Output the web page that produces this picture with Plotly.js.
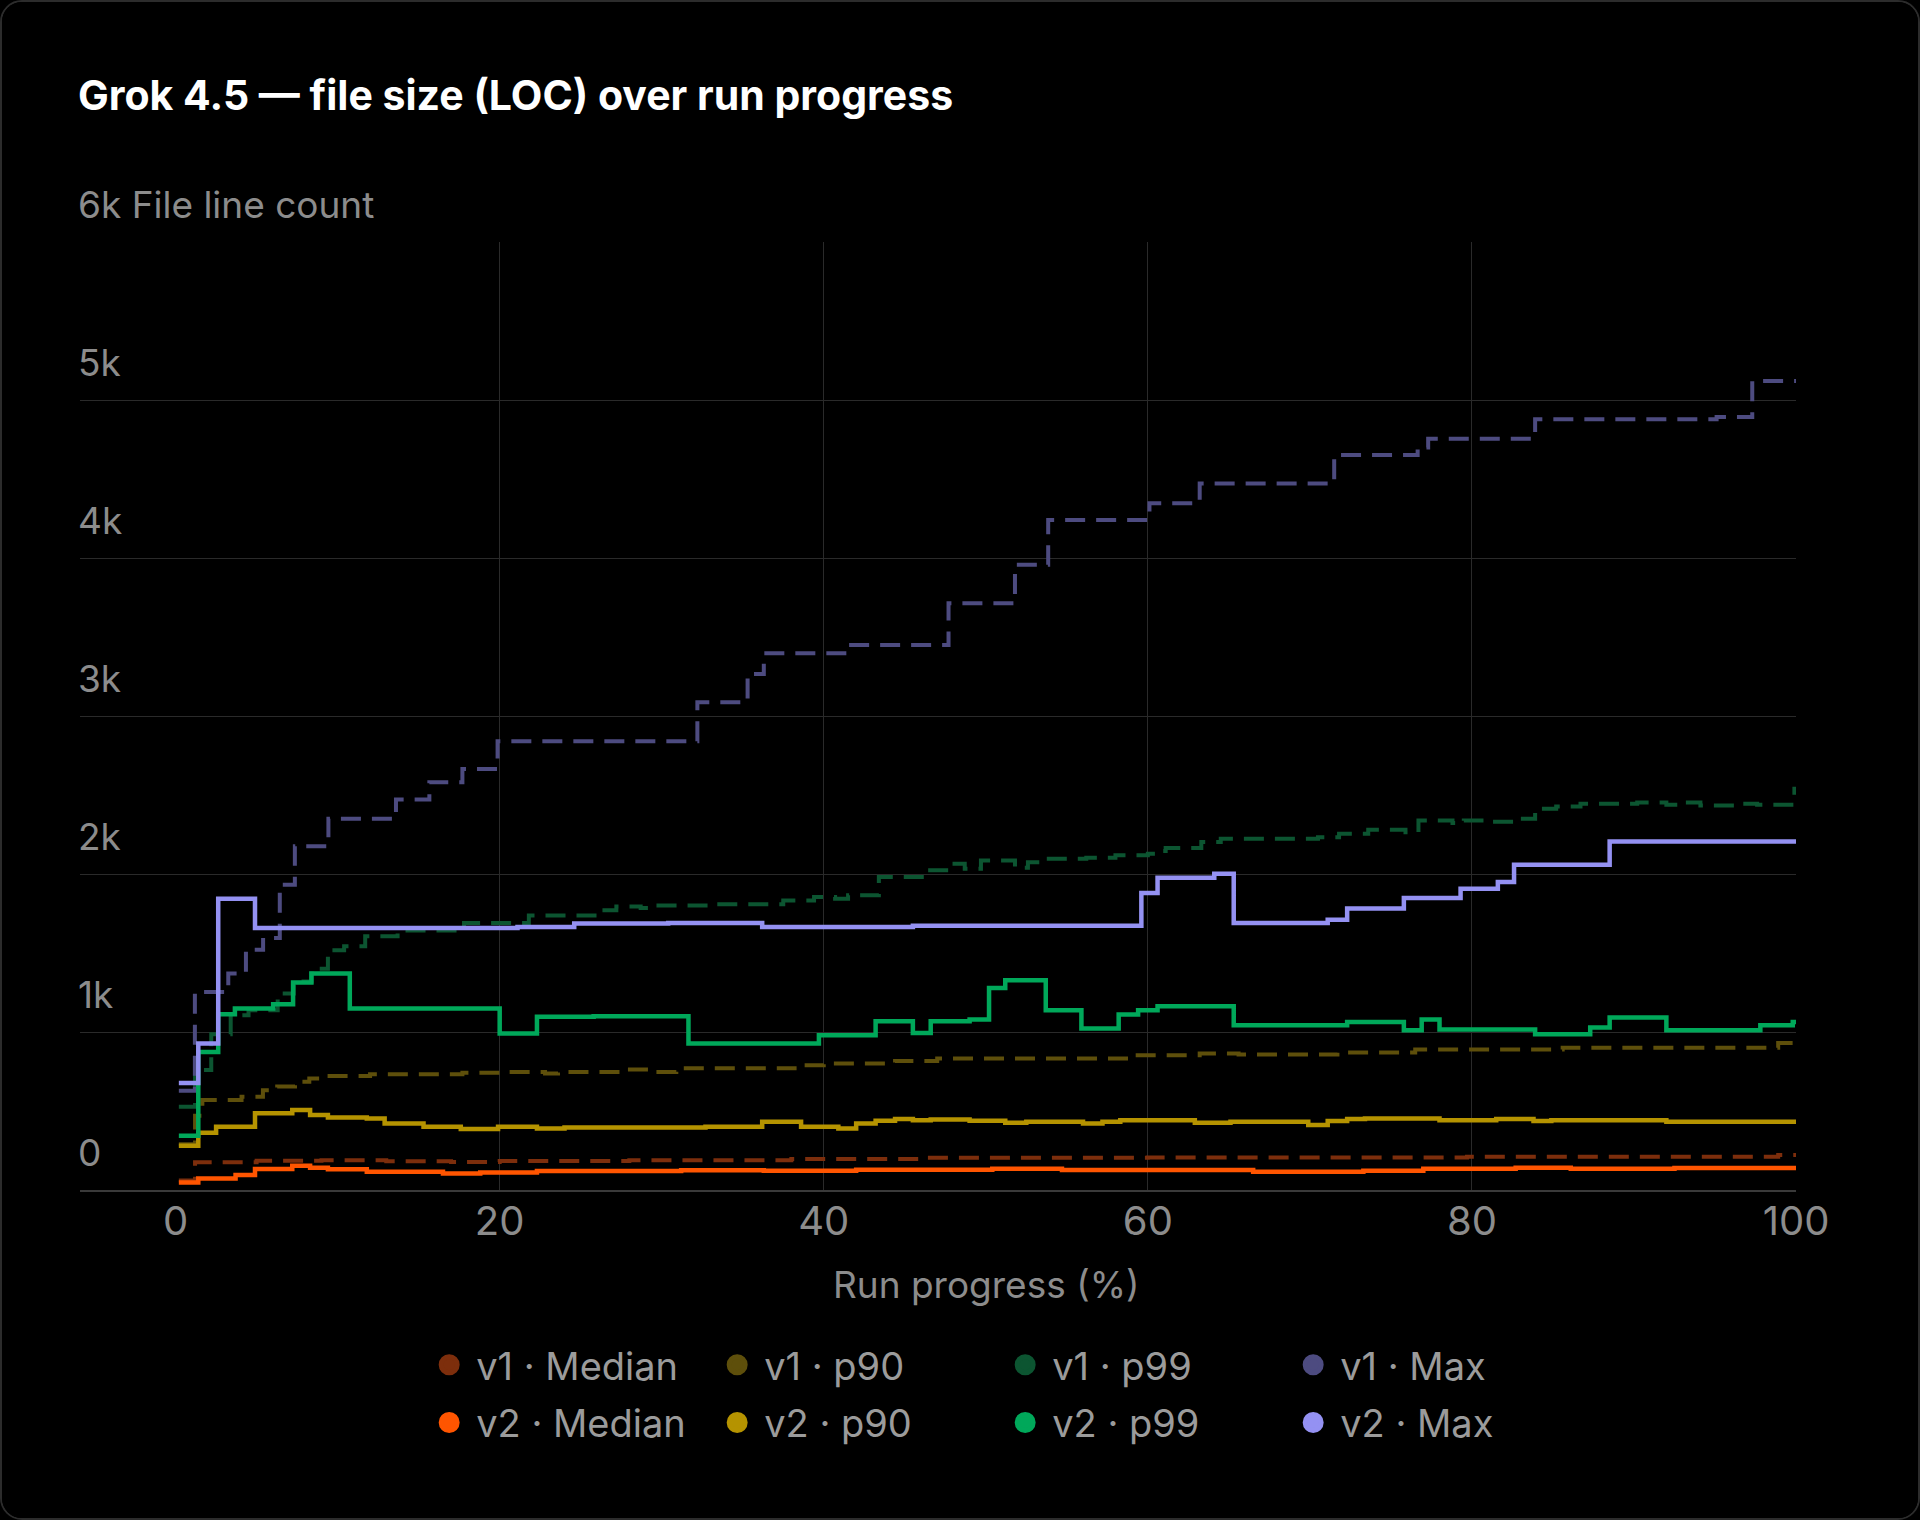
<!DOCTYPE html>
<html>
<head>
<meta charset="utf-8">
<script src="https://cdn.plot.ly/plotly-3.0.1.min.js"></script>
<style>
  html, body { margin: 0; padding: 0; background: #000; }
  #chart {
    width: 1920px; height: 1520px; box-sizing: border-box;
    border: 2px solid #2c2c2c; border-radius: 22px; overflow: hidden;
  }
</style>
</head>
<body>
<div id="chart"></div>
<script>
// Step series: x = run progress (%), y = file line count

const v1MedianX = [0.2, 1.2, 5.0, 9.0, 13, 17, 20, 28, 38, 46, 60, 79.7, 98.9, 100];
const v1MedianY = [60, 175, 185, 188, 182, 178, 183, 188, 196, 204, 206, 211, 221, 221];

const v2MedianX = [0.2, 1.4, 3.7, 4.9, 7.2, 8.3, 9.4, 11.8, 16.5, 18.8, 22.3, 31.2, 36.3, 42.0,
                   50.4, 54.7, 66.5, 73.3, 77.0, 82.7, 86.1, 92.5, 100];
const v2MedianY = [48, 72, 95, 133, 154, 141, 131, 116, 105, 110, 120, 125, 122, 128,
                   135, 126, 116, 122, 135, 141, 135, 139, 139];

const v1P90X = [0.2, 1.2, 1.65, 4.07, 5.39, 6.27, 7.37, 8.25, 8.91, 12.0, 17.7, 20.0, 22.8, 23.6,
                27.4, 29.2, 30.9, 38.2, 40.0, 44.4, 47.0, 58.8, 63.2, 65.6, 71.7, 76.5, 85.6,
                98.9, 100];
const v1P90Y = [290, 470, 569, 590, 632, 655, 685, 706, 722, 733, 742, 747, 737, 747,
                763, 747, 770, 790, 801, 817, 832, 853, 864, 858, 870, 889, 900,
                930, 930];

const v2P90X = [0.2, 1.4, 2.5, 4.9, 7.2, 8.3, 9.4, 11.8, 12.9, 15.3, 17.6, 19.9, 22.3, 24.0,
                32.7, 36.2, 38.6, 40.9, 42.0, 43.2, 44.4, 45.5, 46.6, 49.0, 51.2, 52.5,
                56.0, 57.2, 58.3, 62.9, 65.1, 69.9, 71.1, 72.3, 73.4, 78.0, 81.5, 83.8,
                84.9, 92.0, 100];
const v2P90Y = [280, 362, 400, 485, 506, 474, 459, 452, 421, 400, 386, 400, 390, 395,
                400, 432, 400, 390, 421, 438, 449, 442, 446, 438, 425, 432,
                421, 432, 442, 425, 432, 411, 436, 449, 453, 442, 449, 436,
                442, 432, 432];

const v1P99X = [0.2, 1.2, 2.2, 3.4, 4.5, 6.3, 7.3, 8.4, 9.4, 10.4, 11.7, 13.7, 17.8, 21.8,
                26.1, 27.2, 28.7, 29.8, 33.4, 37.5, 39.4, 40.7, 41.5, 43.4, 46.4, 47.7,
                48.7, 49.7, 51.8, 52.6, 53.5, 56.2, 58.0, 60.0, 60.6, 61.1, 63.3, 64.5,
                70.5, 71.8, 73.6, 75.9, 76.7, 78.8, 79.5, 81.1, 82.6, 83.9, 85.2, 86.7,
                90.2, 92.0, 93.2, 94.1, 96.4, 97.6, 99.9, 100];
const v1P99Y = [527, 760, 986, 1106, 1138, 1243, 1320, 1401, 1517, 1542, 1606, 1643, 1690, 1738,
                1770, 1795, 1785, 1800, 1808, 1833, 1854, 1844, 1865, 1981, 2023, 2065,
                2033, 2086, 2040, 2075, 2097, 2103, 2118, 2128, 2145, 2164, 2202, 2223,
                2233, 2255, 2280, 2265, 2339, 2322, 2339, 2330, 2350, 2413, 2427, 2444,
                2453, 2438, 2453, 2434, 2444, 2438, 2539, 2539];

const v2P99X = [0.2, 1.4, 2.63, 3.66, 6.02, 7.25, 8.38, 10.75, 20.0, 22.3, 25.8, 31.65, 39.7,
                43.2, 45.5, 46.6, 49.0, 50.2, 51.2, 53.7, 55.9, 58.2, 59.4, 60.6, 65.3,
                72.3, 75.8, 76.9, 78.0, 83.9, 87.3, 88.5, 92.0, 97.8, 99.8, 100];
const v2P99Y = [343, 874, 1112, 1148, 1176, 1313, 1370, 1148, 990, 1096, 1100, 927, 980,
                1068, 994, 1068, 1079, 1279, 1327, 1138, 1022, 1110, 1138, 1163, 1043,
                1064, 1011, 1079, 1016, 986, 1028, 1092, 1011, 1043, 1064, 1064];

const v1MaxX = [0.2, 1.19, 3.25, 4.34, 5.4, 6.43, 7.36, 9.43, 13.6, 15.66, 17.7, 19.87, 32.2,
                35.3, 36.3, 41.4, 47.7, 51.8, 53.85, 60.1, 63.2, 71.5, 76.65, 77.3, 83.9,
                95.1, 97.3, 100];
const v1MaxY = [628, 1253, 1370, 1521, 1595, 1932, 2176, 2349, 2471, 2581, 2665, 2840, 3087,
                3266, 3397, 3449, 3713, 3957, 4240, 4347, 4471, 4652, 4700, 4755, 4878,
                4893, 5120, 5120];

const v2MaxX = [0.2, 1.4, 2.63, 4.9, 21.1, 24.6, 30.4, 36.2, 45.5, 59.6, 60.6, 64.1, 65.3,
                71.1, 72.3, 75.8, 79.3, 81.6, 82.6, 88.5, 100];
const v2MaxY = [678, 927, 1844, 1658, 1664, 1686, 1690, 1664, 1673, 1879, 1977, 2002, 1690,
                1711, 1781, 1848, 1907, 1949, 2059, 2206, 2206];

const yTickVals = [0, 1000, 2000, 3000, 4000, 5000, 6000];
const yTickText = ['0', '1k', '2k', '3k', '4k', '5k', '6k File line count'];
const xTickVals = [0, 20, 40, 60, 80, 100];

const FONT = 'Inter, "Noto Sans", sans-serif';

// name, data, colour, dashed (v1), legend row
const series = [
  {name: 'v1 · Median', x: v1MedianX, y: v1MedianY, color: '#7d2e0c', v1: true},
  {name: 'v1 · p90',    x: v1P90X,    y: v1P90Y,    color: '#5e4f0b', v1: true},
  {name: 'v1 · p99',    x: v1P99X,    y: v1P99Y,    color: '#0c5531', v1: true},
  {name: 'v1 · Max',    x: v1MaxX,    y: v1MaxY,    color: '#4d4b80', v1: true},
  {name: 'v2 · Median', x: v2MedianX, y: v2MedianY, color: '#ff5500', v1: false},
  {name: 'v2 · p90',    x: v2P90X,    y: v2P90Y,    color: '#b59300', v1: false},
  {name: 'v2 · p99',    x: v2P99X,    y: v2P99Y,    color: '#00a85a', v1: false},
  {name: 'v2 · Max',    x: v2MaxX,    y: v2MaxY,    color: '#9491f2', v1: false}
];

let traces = [];

series.forEach((s) => {
  traces.push({
    x: s.x,
    y: s.y,
    type: 'scatter',
    mode: 'lines',
    name: s.name,
    line: {shape: 'hv', color: s.color, width: s.v1 ? 4 : 4.5, dash: s.v1 ? '20px,11px' : 'solid'},
    showlegend: false,
    legendgroup: s.name,
    hoverinfo: 'x+y+name'
  });
});

// round legend swatches, one row per version
series.forEach((s) => {
  traces.push({
    x: [null],
    y: [null],
    type: 'scatter',
    mode: 'markers',
    name: s.name,
    marker: {symbol: 'circle', size: 16, color: s.color, line: {color: s.color, width: 5}},
    legend: s.v1 ? 'legend' : 'legend2',
    legendgroup: s.name,
    showlegend: true
  });
});

const legendBase = {
  orientation: 'h',
  xref: 'container',
  yref: 'container',
  x: 0.2193,
  xanchor: 'left',
  yanchor: 'top',
  entrywidth: 229,
  itemwidth: 44,
  bgcolor: 'rgba(0,0,0,0)',
  font: {family: FONT, size: 38, color: '#9b9b9b'}
};

var layout = {
  width: 1916,
  height: 1516,
  paper_bgcolor: '#000',
  plot_bgcolor: '#000',
  margin: {l: 78, r: 122, t: 240, b: 328},
  font: {family: FONT, color: '#8c8c8c'},

  title: {
    text: 'Grok 4.5 — file size (LOC) over run progress',
    font: {family: FONT, size: 41, color: '#ffffff', weight: 700},
    xref: 'container',
    yref: 'container',
    x: 76 / 1916,
    xanchor: 'left',
    y: 1 - 94 / 1516,
    yanchor: 'middle'
  },

  xaxis: {
    range: [-5.9, 100],
    tickvals: xTickVals,
    ticks: '',
    ticklabelstandoff: -5,
    showgrid: true,
    gridcolor: '#2a2a2a',
    gridwidth: 1,
    zeroline: true,
    zerolinecolor: 'rgba(0,0,0,0)',
    showline: true,
    linecolor: '#3a3a3a',
    linewidth: 2,
    tickfont: {family: FONT, size: 40, color: '#8c8c8c'},
    fixedrange: true
  },

  yaxis: {
    range: [0, 6000],
    tickvals: yTickVals,
    ticktext: yTickText,
    ticks: '',
    ticklabelposition: 'inside top',
    ticklabeloverflow: 'allow',
    ticklabelshift: -11,
    ticklabelstandoff: -5,
    showgrid: true,
    gridcolor: '#2a2a2a',
    gridwidth: 1,
    zeroline: false,
    tickfont: {family: FONT, size: 37, color: '#8c8c8c'},
    fixedrange: true
  },

  annotations: [{
    text: 'Run progress (%)',
    xref: 'x',
    x: 50,
    yref: 'paper',
    y: 0,
    yanchor: 'top',
    yshift: -70,
    showarrow: false,
    font: {family: FONT, size: 37, color: '#8c8c8c'}
  }],

  legend: Object.assign({}, legendBase, {y: 0.1217}),
  legend2: Object.assign({}, legendBase, {y: 0.0836}),
  hovermode: 'closest'
};

Plotly.newPlot('chart', traces, layout, {displayModeBar: false, responsive: false});
</script>
</body>
</html>
